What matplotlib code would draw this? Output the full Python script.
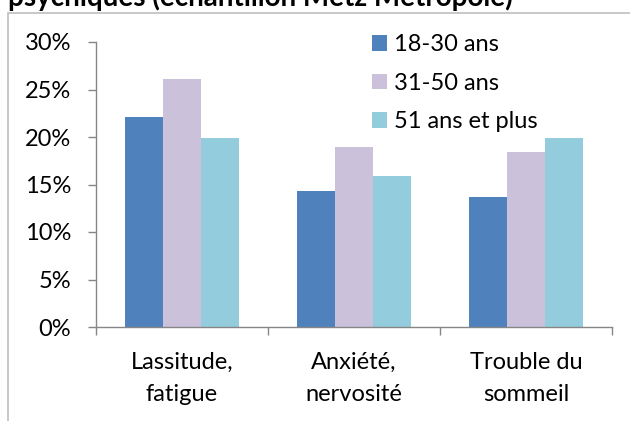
import matplotlib
matplotlib.use("Agg")
import matplotlib.pyplot as plt
from matplotlib.patches import Patch, Rectangle
import numpy as np

categories = ["Lassitude,\nfatigue", "Anxiété,\nnervosité", "Trouble du\nsommeil"]
series_names = ["18-30 ans", "31-50 ans", "51 ans et plus"]
s1 = [22.1, 14.3, 13.7]
s2 = [26.1, 18.9, 18.4]
s3 = [19.9, 15.9, 19.9]
colors = ["#4F81BD", "#CCC1DA", "#93CDDD"]
yticks = [0, 5, 10, 15, 20, 25, 30]
title = "psychiques (échantillon Metz Métropole)"

plt.rcParams['font.family'] = ['Lato', 'DejaVu Sans']
W, H = 630, 421
FS = 17
fig = plt.figure(figsize=(6.3, 4.21), dpi=100)

# outer chart frame (cropped)
fig.patches.append(Rectangle((8 / W, -0.1), 1.2, 1 - 13 / H + 0.1, transform=fig.transFigure,
                             fill=False, edgecolor="#BFBFBF", linewidth=1.2))
fig.text(8 / W, 1 - 6 / H, title, fontsize=20, fontweight='bold', ha='left', va='baseline')

ax = fig.add_axes([96 / W, 1 - 327 / H, (612 - 96) / W, (327 - 42) / H])
x = np.arange(len(categories))
bw = 1 / 4.5
for i, (vals, c, name) in enumerate(zip([s1, s2, s3], colors, series_names)):
    ax.bar(x + (i - 1) * bw, vals, width=bw, color=c, label=name, edgecolor='none')

ax.set_xlim(-0.5, len(categories) - 0.5)
ax.set_ylim(0, 30)
ax.set_yticks(yticks)
ax.set_yticklabels([f"{v}%" for v in yticks])
ax.set_xticks(x)
ax.set_xticklabels(categories, linespacing=1.62)
ax.set_xticks(np.arange(len(categories) + 1) - 0.5, minor=True)
ax.tick_params(axis='x', which='major', length=0, pad=18, labelsize=FS)
ax.tick_params(axis='x', which='minor', length=6, color="#868686", width=1)
ax.tick_params(axis='y', length=6, color="#868686", width=1, pad=12, labelsize=FS)
for s in ['top', 'right']:
    ax.spines[s].set_visible(False)
for s in ['left', 'bottom']:
    ax.spines[s].set_color("#868686")
    ax.spines[s].set_linewidth(1)

handles = [Patch(facecolor=c, edgecolor='none') for c in colors]
leg = ax.legend(handles, series_names, loc='upper left', bbox_to_anchor=((372 - 96) / 516, 1.027),
                frameon=False, fontsize=FS, handlelength=0.64, handleheight=0.64,
                handletextpad=0.3, labelspacing=0.74, borderpad=0, borderaxespad=0)

fig.savefig("out.png", dpi=100)
